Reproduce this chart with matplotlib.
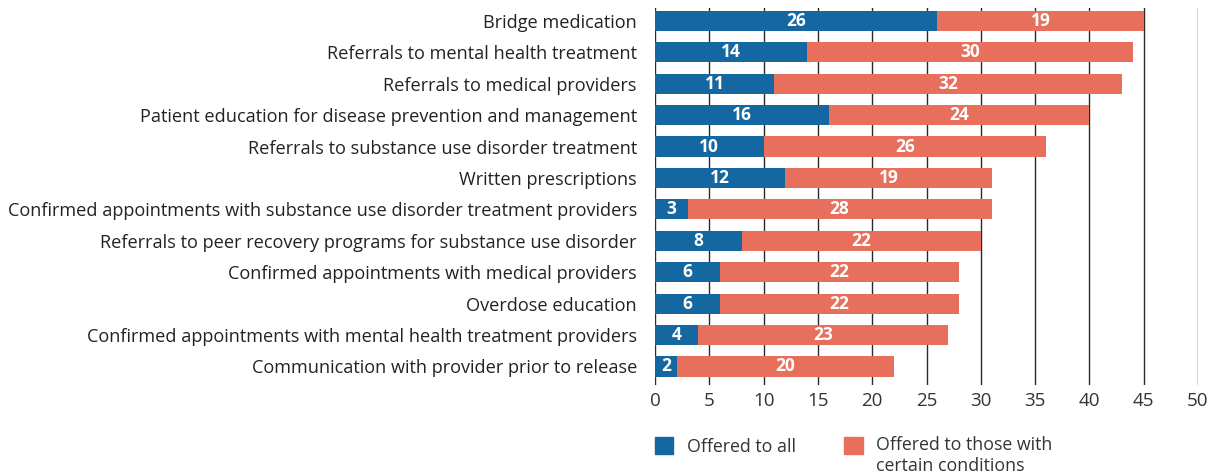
import matplotlib
matplotlib.use("Agg")
import matplotlib.pyplot as plt
from matplotlib.patches import Rectangle

categories = [
    "Bridge medication",
    "Referrals to mental health treatment",
    "Referrals to medical providers",
    "Patient education for disease prevention and management",
    "Referrals to substance use disorder treatment",
    "Written prescriptions",
    "Confirmed appointments with substance use disorder treatment providers",
    "Referrals to peer recovery programs for substance use disorder",
    "Confirmed appointments with medical providers",
    "Overdose education",
    "Confirmed appointments with mental health treatment providers",
    "Communication with provider prior to release",
]
offered_all = [26, 14, 11, 16, 10, 12, 3, 8, 6, 6, 4, 2]
offered_cond = [19, 30, 32, 24, 26, 19, 28, 22, 22, 22, 23, 20]
xticks = [0, 5, 10, 15, 20, 25, 30, 35, 40, 45, 50]
legend_labels = ["Offered to all", "Offered to those with\ncertain conditions"]

BLUE = "#1467a0"
RED = "#e86f5c"
FONT = ["Open Sans", "DejaVu Sans"]
plt.rcParams["font.family"] = FONT

W, H = 1219, 476
fig = plt.figure(figsize=(W / 100, H / 100), dpi=100)
ax = fig.add_axes([655 / W, 1 - 385 / H, (1198 - 655) / W, (385 - 8) / H])

y = list(range(len(categories)))
ax.barh(y, offered_all, height=0.64, color=BLUE, zorder=2)
ax.barh(y, offered_cond, left=offered_all, height=0.64, color=RED, zorder=2)

for i in y:
    a, c = offered_all[i], offered_cond[i]
    ax.text(a / 2, i, str(a), ha="center", va="center", color="white",
            fontsize=12.5, fontweight="bold", zorder=3)
    ax.text(a + c / 2, i, str(c), ha="center", va="center", color="white",
            fontsize=12.5, fontweight="bold", zorder=3)

ax.set_xlim(0, 50)
ax.set_ylim(11.59, -0.41)
ax.set_xticks(xticks)
ax.set_xticklabels([str(t) for t in xticks], fontsize=13.5, color="#333333")
ax.set_yticks(y)
ax.set_yticklabels(categories, fontsize=13.1, color="#222222")
ax.tick_params(axis="both", length=0)
ax.tick_params(axis="x", pad=5)
ax.tick_params(axis="y", pad=13)
ax.xaxis.grid(True, color="#2a2a2a", linewidth=1.0, zorder=0)
ax.set_axisbelow(True)
for s in ax.spines.values():
    s.set_visible(False)

# legend
def fx(px):
    return px / W

def fy(px):
    return 1 - px / H

fig.patches.append(Rectangle((fx(655), fy(454)), 18 / W, 17 / H, transform=fig.transFigure,
                             color=BLUE, figure=fig))
fig.text(fx(687), fy(447), legend_labels[0], fontsize=12.8, va="center", ha="left", color="#333333")
fig.patches.append(Rectangle((fx(844), fy(454)), 19 / W, 17 / H, transform=fig.transFigure,
                             color=RED, figure=fig))
fig.text(fx(876), fy(436), legend_labels[1], fontsize=12.8, va="top", ha="left", color="#333333",
         linespacing=1.2)

fig.savefig("out.png", dpi=100)
